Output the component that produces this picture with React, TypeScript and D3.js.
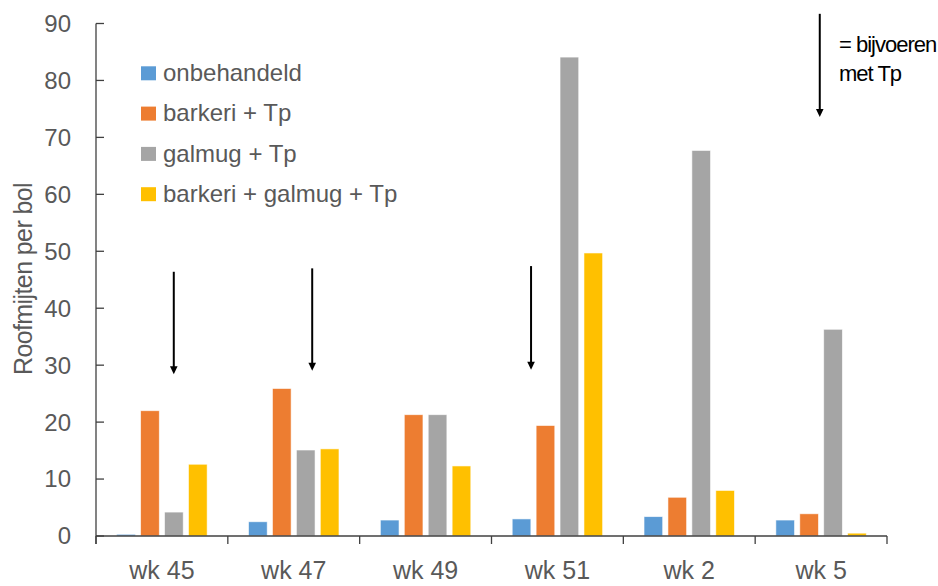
import React from "react";
import * as d3 from "d3";

// Weekly counts of predatory mites per bulb, per treatment
const weeks = ["wk 45", "wk 47", "wk 49", "wk 51", "wk 2", "wk 5"];
const treatments = ["onbehandeld", "barkeri + Tp", "galmug + Tp", "barkeri + galmug + Tp"];
const colors = ["#5B9BD5", "#ED7D31", "#A5A5A5", "#FFC000"];

const onbehandeld = [0.3, 2.5, 2.8, 3.0, 3.4, 2.8];
const barkeriTp = [22.0, 25.9, 21.3, 19.4, 6.8, 3.9];
const galmugTp = [4.2, 15.1, 21.3, 84.1, 67.7, 36.3];
const barkeriGalmugTp = [12.6, 15.3, 12.3, 49.7, 8.0, 0.5];
const seriesValues = [onbehandeld, barkeriTp, galmugTp, barkeriGalmugTp];

const yTicks = [0, 10, 20, 30, 40, 50, 60, 70, 80, 90];

// Feeding moments with Tp: week, relative position inside the week band, arrow top and tip in data units
const feedWeeks = ["wk 45", "wk 47", "wk 51", "wk 5"];
const feedOffsets = [0.59, 0.64, 0.3, 0.49];
const feedTops = [46.4, 47.0, 47.4, 91.7];
const feedTips = [28.4, 29.0, 29.2, 73.6];

const W = 938;
const H = 586;
const plotLeft = 96;
const plotRight = 887;
const plotTop = 23.5;
const plotBottom = 536;

const FONT = "'Liberation Sans', Arial, Helvetica, sans-serif";
const TEXT = "#595959";

export default function App() {
  const x0 = d3.scaleBand<string>().domain(weeks).range([plotLeft, plotRight]).padding(0);
  const bw = x0.bandwidth();
  const x1 = d3
    .scaleBand<string>()
    .domain(treatments)
    .range([bw * 0.157, bw * 0.843])
    .paddingInner(0.22)
    .paddingOuter(0);
  const y = d3.scaleLinear().domain([0, 90]).range([plotBottom, plotTop]);

  const boundaries = [...weeks.map((w) => x0(w) as number), plotRight];

  return (
    <svg
      width={W}
      height={H}
      style={{ position: "absolute", left: 0, top: 0, background: "#fff" }}
      fontFamily={FONT}
    >
      {/* bars */}
      {seriesValues.map((vals, si) => (
        <g key={treatments[si]} fill={colors[si]}>
          {vals.map((v, wi) => (
            <rect
              key={weeks[wi]}
              x={(x0(weeks[wi]) as number) + (x1(treatments[si]) as number)}
              y={y(v)}
              width={x1.bandwidth()}
              height={y(0) - y(v)}
              stroke="#ffffff"
              strokeOpacity={0.7}
              strokeWidth={0.8}
            />
          ))}
        </g>
      ))}

      {/* y axis */}
      <line x1={plotLeft} x2={plotLeft} y1={y(90)} y2={plotBottom + 8} stroke="#404040" strokeWidth={1.3} />
      {yTicks.map((t) => (
        <g key={t}>
          <line x1={plotLeft} x2={plotLeft + 8} y1={y(t)} y2={y(t)} stroke="#404040" strokeWidth={1.3} />
          <text x={71} y={y(t)} dy="0.35em" textAnchor="end" fontSize={24} fill={TEXT}>
            {t}
          </text>
        </g>
      ))}

      {/* x axis */}
      <line x1={plotLeft} x2={plotRight} y1={plotBottom} y2={plotBottom} stroke="#404040" strokeWidth={1.3} />
      {boundaries.map((bx, i) => (
        <line key={i} x1={bx} x2={bx} y1={plotBottom} y2={plotBottom + 8} stroke="#404040" strokeWidth={1.3} />
      ))}
      {weeks.map((w) => (
        <text
          key={w}
          x={(x0(w) as number) + bw / 2}
          y={579}
          textAnchor="middle"
          fontSize={25}
          fill={TEXT}
        >
          {w}
        </text>
      ))}

      {/* y axis title */}
      <text
        transform={`translate(32, 279) rotate(-90)`}
        textAnchor="middle"
        fontSize={25}
        letterSpacing={-0.6}
        fill={TEXT}
      >
        Roofmijten per bol
      </text>

      {/* legend */}
      {treatments.map((t, i) => (
        <g key={t} transform={`translate(141, ${73.3 + i * 40.3})`}>
          <rect x={0} y={-7} width={15} height={14} fill={colors[i]} />
          <text x={22} y={0} dy="0.32em" fontSize={24} fill={TEXT}>
            {t}
          </text>
        </g>
      ))}

      {/* feeding arrows */}
      {feedWeeks.map((w, i) => {
        const ax = (x0(w) as number) + bw * feedOffsets[i];
        const top = y(feedTops[i]);
        const tip = y(feedTips[i]);
        return (
          <g key={w}>
            <line x1={ax} x2={ax} y1={top} y2={tip - 6} stroke="#000" strokeWidth={2} />
            <path d={`M${ax - 3.8},${tip - 8} L${ax + 3.8},${tip - 8} L${ax},${tip} Z`} fill="#000" />
          </g>
        );
      })}

      {/* arrow legend */}
      <text x={839} y={52} fontSize={22} letterSpacing={-1} fill="#000">
        = bijvoeren
      </text>
      <text x={839} y={81} fontSize={22} letterSpacing={-1} fill="#000">
        met Tp
      </text>
    </svg>
  );
}
